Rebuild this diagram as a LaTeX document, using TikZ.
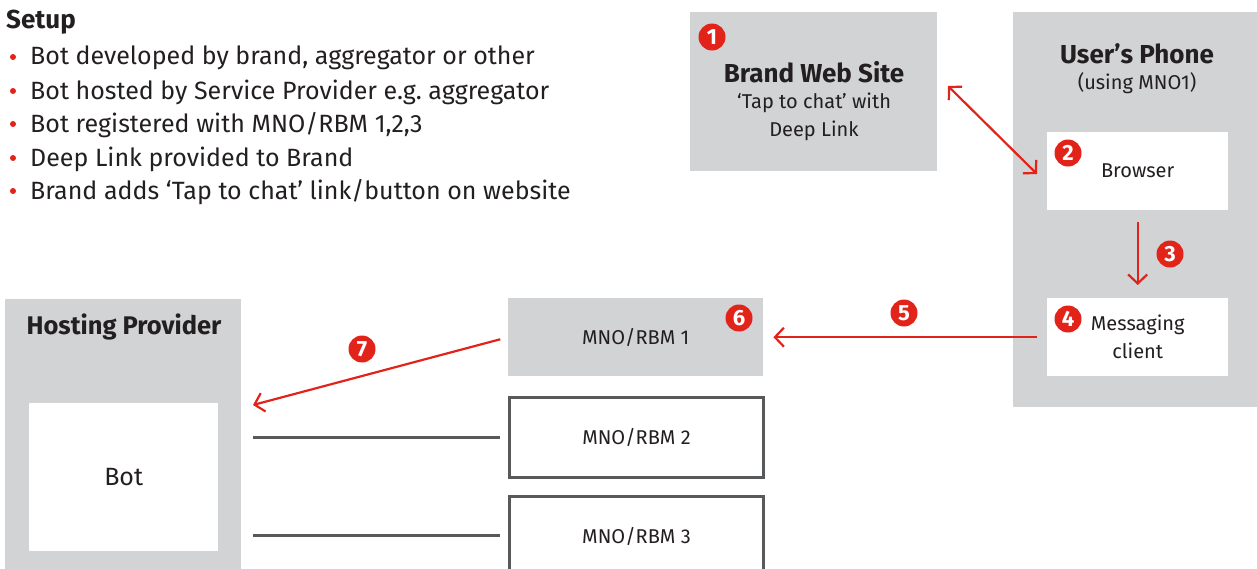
\documentclass[tikz,border=0pt]{standalone}
\usepackage{fontspec}
\setmainfont{Fira Sans}
\usetikzlibrary{arrows.meta}

\definecolor{boxgray}{HTML}{D1D3D4}
\definecolor{markred}{HTML}{E2231A}
\definecolor{inkgray}{HTML}{231F20}
\definecolor{edgegray}{HTML}{58595B}

\begin{document}
\begin{tikzpicture}[x=1pt, y=-1pt,
  >={Straight Barb[length=9pt,width=19pt,line width=2.2pt]},
  every node/.style={text=inkgray, inner sep=0pt},
  panel/.style={fill=boxgray, anchor=north west},
  card/.style={fill=white, anchor=north west, align=center, font=\fontsize{20}{28}\selectfont},
  outlined/.style={draw=edgegray, line width=3pt, fill=white, anchor=north west, font=\fontsize{20}{28}\selectfont},
  heading/.style={font=\bfseries\fontsize{26}{30}\selectfont},
  item/.style={anchor=west, font=\fontsize{25}{28}\selectfont},
  badge/.style={circle, fill=markred, text=white, minimum size=27pt, font=\bfseries\fontsize{22}{22}\selectfont},
  step arrow/.style={draw=markred, line width=2.2pt, ->},
  link/.style={draw=edgegray, line width=3pt}]

	\useasboundingbox (0,0) rectangle (1257,568);
	\clip (0,0) rectangle (1257,568);

	% Setup list
	\node[heading, anchor=west] (setup) at (6,22) {Setup};
	\node[item] (item1) at (30,58) {Bot developed by brand, aggregator or other};
	\node[item] (item2) at (30,92) {Bot hosted by Service Provider e.g.\ aggregator};
	\node[item] (item3) at (30,125) {Bot registered with MNO/RBM 1,2,3};
	\node[item] (item4) at (30,159) {Deep Link provided to Brand};
	\node[item] (item5) at (30,192) {Brand adds ‘Tap to chat’ link/button on website};
	\foreach \i in {1,...,5}
		\fill[markred] ([xshift=-17pt, yshift=1pt]item\i.west) circle (3pt);

	% Brand web site
	\node[panel, minimum width=247pt, minimum height=159pt] (brandsite) at (690,12) {};
	\node[heading] (brandtitle) at (814,72) {Brand Web Site};
	\node[align=center, font=\fontsize{20}{28}\selectfont] (brandtext) at (814,117) {‘Tap to chat’ with\\Deep Link};

	% User's phone
	\node[panel, minimum width=244pt, minimum height=395pt] (phone) at (1013,12) {};
	\node[heading] (phonetitle) at (1137,54) {User’s Phone};
	\node[font=\fontsize{20}{24}\selectfont] (phonesub) at (1137,83) {(using MNO1)};
	\node[card, minimum width=181pt, minimum height=78pt] (browser) at (1047,132) {Browser};
	\node[card, minimum width=181pt, minimum height=78pt] (client) at (1047,298) {Messaging\\client};

	% MNO / RBM operators
	\node[panel, minimum width=255pt, minimum height=78pt, font=\fontsize{20}{28}\selectfont] (rbmone) at (508,298) {MNO/RBM 1};
	\node[outlined, minimum width=254pt, minimum height=80pt] (rbmtwo) at (508,396) {MNO/RBM 2};
	\node[outlined, minimum width=254pt, minimum height=80pt] (rbmthree) at (508,495) {MNO/RBM 3};

	% Hosting provider
	\node[panel, minimum width=236pt, minimum height=300pt] (hosting) at (5,299) {};
	\node[font=\bfseries\fontsize{25.5}{28}\selectfont] (hosttitle) at (124,327) {Hosting Provider};
	\node[card, minimum width=189pt, minimum height=148pt, font=\fontsize{25}{30}\selectfont] (bot) at (29,403) {Bot};

	% Connectors
	\coordinate (siteend) at (948,86);
	\coordinate (browserend) at (1037,174);
	\coordinate (botend) at (253,405);
	\draw[step arrow, <->] (siteend) -- (browserend);
	\draw[step arrow, shorten <=12pt, shorten >=13pt] (browser.south) -- (client.north);
	\draw[step arrow, shorten <=10pt, shorten >=10pt] (client.west) -- (rbmone.east);
	\draw[step arrow, shorten <=8pt] (rbmone.west) -- (botend);
	\draw[link, shorten <=8pt, shorten >=12pt] (rbmtwo.west) -- (rbmtwo.west -| hosting.east);
	\draw[link, shorten <=8pt, shorten >=12pt] (rbmthree.west |- 0,535) -- (hosting.east |- 0,535);

	% Step badges
	\node[badge] (n1) at (712,37) {1};
	\node[badge] (n2) at (1068,153) {2};
	\node[badge] (n3) at (1170,254) {3};
	\node[badge] (n4) at (1068,319) {4};
	\node[badge] (n5) at (904,313) {5};
	\node[badge] (n6) at (739,318) {6};
	\node[badge] (n7) at (362,349) {7};

\end{tikzpicture}
\end{document}
